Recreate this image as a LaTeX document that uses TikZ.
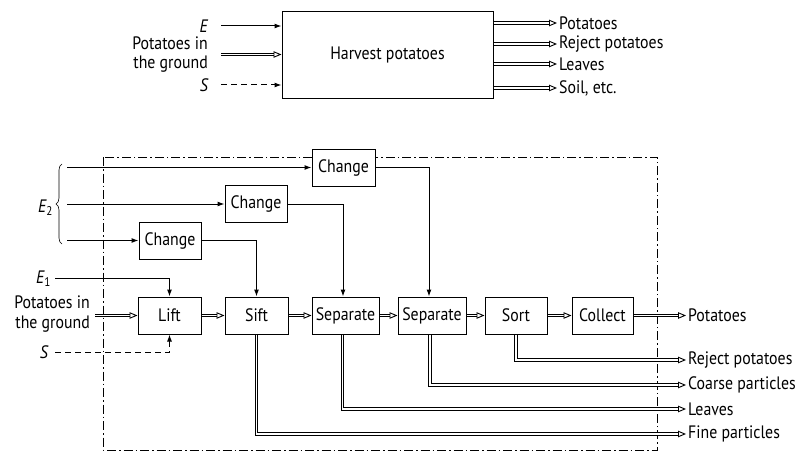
\documentclass[tikz,border=0pt]{standalone}
\usepackage{fontspec}
\setmainfont{PT Sans}[FakeStretch=0.88]
\usetikzlibrary{arrows.meta,decorations.pathreplacing}
\begin{document}
\begin{tikzpicture}[x=1pt,y=-1pt,
  font=\fontsize{18}{20}\selectfont,
  blk/.style={draw, line width=1pt, fill=white, inner sep=0pt, minimum height=37pt},
  lbl/.style={inner sep=2pt},
  sarr/.style={line width=1pt, -{Latex[length=7pt,width=5pt]}},
  darr/.style={line width=0.9pt, double=white, double distance=1.6pt, -{Triangle[open,length=8pt,width=6.5pt,line width=0.9pt]}},
  dsh/.style={dash pattern=on 6pt off 4pt},
  frame/.style={line width=0.9pt, dash pattern=on 9pt off 3pt on 1.5pt off 3pt},
]
\useasboundingbox (0,0) rectangle (801,452);

% ---------- top diagram ----------
\node[draw, line width=1pt, minimum width=211pt, minimum height=87pt, inner sep=0pt] (hp) at (387.5,55.5) {Harvest potatoes};
\node[lbl, inner sep=0.5pt, anchor=east] (tE) at (208.5,26) {\itshape E};
\node[lbl, inner sep=0.5pt, anchor=east, align=right, font=\fontsize{18}{19}\selectfont] (tP) at (208.5,54.5) {Potatoes in\\the ground};
\node[lbl, inner sep=0.5pt, anchor=east] (tS) at (208.5,85) {\itshape S};
\draw[sarr] (tE.east -| 221,0) -- (tE.east -| hp.west);
\draw[darr] (tP.east -| 221,0) -- (tP.east -| hp.west);
\draw[sarr, dsh] (tS.east -| 221,0) -- (tS.east -| hp.west);

\node[lbl, anchor=west] (o1) at (557,23) {Potatoes};
\node[lbl, anchor=west] (o2) at (557,44) {Reject potatoes};
\node[lbl, anchor=west] (o3) at (557,64) {Leaves};
\node[lbl, anchor=west] (o4) at (557,88) {Soil, etc.};
\foreach \o in {o1,o2,o3,o4} \draw[darr] (hp.east |- \o) -- (\o.west);

% ---------- bottom diagram ----------
\draw[frame] (103,157) rectangle (657,450);

\node[blk, minimum width=63pt] (chA) at (343.5,167.5) {Change};
\node[blk, minimum width=62pt] (chB) at (256,204) {Change};
\node[blk, minimum width=62pt] (chC) at (170,240.5) {Change};

\node[blk, minimum width=63pt] (lift) at (169.5,315.5) {Lift};
\node[blk, minimum width=63pt] (sift) at (256.5,315.5) {Sift};
\node[blk, minimum width=67pt] (sep1) at (345.5,315.5) {Separate};
\node[blk, minimum width=68pt] (sep2) at (432,315.5) {Separate};
\node[blk, minimum width=62pt] (sort) at (516,315.5) {Sort};
\node[blk, minimum width=61pt] (coll) at (602.5,315.5) {Collect};

% E2 inputs
\draw[line width=0.6pt, decorate, decoration={brace, amplitude=6pt}] (62,244) -- (62,164);
\node[lbl, anchor=east] (e2) at (55,208) {\itshape E\textsubscript{\upshape 2}};
\coordinate (e2a) at (67,167.5);
\coordinate (e2b) at (67,204);
\coordinate (e2c) at (67,240.5);
\draw[sarr] (e2a) -- (chA.west);
\draw[sarr] (e2b) -- (chB.west);
\draw[sarr] (e2c) -- (chC.west);

\draw[sarr] (chC.east) -| (sift.north);
\draw[sarr] (chB.east) -| ([xshift=-2.5pt]sep1.north);
\draw[sarr] (chA.east) -| ([xshift=-3pt]sep2.north);

% left inputs
\node[lbl, anchor=east] (e1) at (53,279) {\itshape E\textsubscript{\upshape 1}};
\coordinate (e1s) at (55,278);
\draw[sarr] (e1s) -| (lift.north);
\node[lbl, anchor=east, align=right] (pig) at (92,314) {Potatoes in\\the ground};
\draw[darr] ([xshift=3pt]pig.east |- lift.west) -- (lift.west);
\node[lbl, anchor=east] (s) at (50,352) {\itshape S};
\coordinate (ss) at (55,352);
\draw[sarr, dsh] (ss) -| (lift.south);

% main flow
\draw[darr] (lift.east) -- (sift.west);
\draw[darr] (sift.east) -- (sep1.west);
\draw[darr] (sep1.east) -- (sep2.west);
\draw[darr] (sep2.east) -- (sort.west);
\draw[darr] (sort.east) -- (coll.west);

% outputs
\node[lbl, anchor=west] (oPot) at (686,315.5) {Potatoes};
\node[lbl, anchor=west] (oRej) at (686,360) {Reject potatoes};
\node[lbl, anchor=west] (oCoa) at (686,385) {Coarse particles};
\node[lbl, anchor=west] (oLea) at (686,409) {Leaves};
\node[lbl, anchor=west] (oFin) at (686,434) {Fine particles};
\draw[darr] (coll.east) -- (oPot.west);
\draw[darr] (sort.south) |- (oRej.west);
\draw[darr] ([xshift=-2pt]sep2.south) |- (oCoa.west);
\draw[darr] ([xshift=-3pt]sep1.south) |- (oLea.west);
\draw[darr] (sift.south) |- (oFin.west);
\end{tikzpicture}
\end{document}
